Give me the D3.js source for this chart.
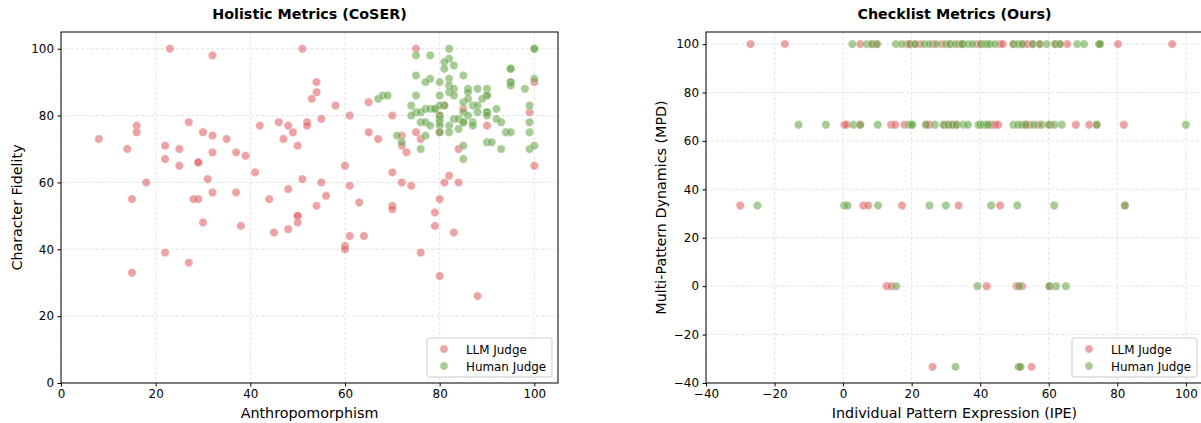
<!DOCTYPE html>
<html><head><meta charset="utf-8">
<script src="https://cdn.jsdelivr.net/npm/d3@7"></script>
<style>body{margin:0;background:#fff}svg{display:block}text{font-family:"DejaVu Sans",sans-serif}</style>
</head><body><svg id="c" width="1201" height="423"></svg>
<script>
// ---- data ----
const holisticLLM = [[23,100],[32,98],[51,100],[75,100],[54,90],[54,87],[53,85],[58,83],[65,84],[61,80],[55,79],[52,78],[52,77],[70,80],[65,75],[67,73],[75,75],[76,73],[72,74],[72,71],[73,69],[60,65],[70,63],[51,61],[55,60],[61,59],[72,60],[74,59],[56,56],[54,53],[63,54],[70,53],[70,52],[80,55],[82,62],[81,60],[84,60],[84,70],[90,77],[100,90],[99,81],[100,65],[81,83],[85,82],[80,75],[80,80],
[8,73],[16,77],[16,75],[14,70],[18,60],[15,55],[27,78],[22,71],[25,70],[22,67],[25,65],[29,66],[29,66],[30,75],[32,74],[32,69],[35,73],[37,69],[39,68],[31,61],[32,57],[28,55],[29,55],[37,57],[41,63],[42,77],[44,55],[46,78],[48,77],[47,73],[49,75],[50,71],[48,58],
[30,48],[38,47],[45,45],[48,46],[50,50],[50,50],[50,48],[22,39],[27,36],[15,33],
[79,51],[79,47],[83,45],[61,44],[64,44],[60,41],[60,40],[76,39],[80,32],[88,26]];
const holisticHuman = [[82,100],[100,100],[100,100],[75,98],[78,98],[82,97],[81,96],[83,95],[81,94],[95,94],[95,94],[75,92],[85,92],[78,91],[77,90],[80,90],[82,91],[95,90],[95,90],[95,89],[100,91],[82,89],[82,87],[83,88],[83,86],[86,88],[86,87],[88,88],[90,88],[90,86],[90,86],[98,88],[75,86],[80,86],[81,83],[85,84],[86,85],[87,83],[88,83],[89,85],[67,85],[68,86],[69,86],[74,83],[75,81],[76,81],[77,82],[78,82],[79,82],[79,82],[80,83],[74,80],[80,80],[80,79],[80,78],[76,78],[77,78],[78,77],[83,79],[84,79],[85,78],[85,78],[85,81],[86,80],[87,78],[87,77],[88,81],[90,81],[90,81],[90,80],[92,82],[92,79],[93,78],[82,77],[82,75],[84,76],[80,77],[80,75],[77,74],[71,74],[72,72],[76,70],[85,71],[85,67],[90,72],[91,72],[93,70],[94,75],[95,75],[99,83],[99,78],[99,75],[99,70],[100,71]];

const lv = [100, 200/3, 100/3, 0, -100/3];
const checkLLM100 = [-27,-17,5,8.5,10,18.6,19.5,21,22.5,26.3,28.8,31.2,33.8,35,39,40.2,45.8,46.6,49.7,52.6,53.8,55.3,57.4,61.9,63.3,65.4,74.7,80.2,96];
const checkLLM67 = [0.4,1,5,14,15.2,17.9,24.4,25.1,29.6,30.7,31.9,33.1,43.3,44.3,45.3,53.3,54.5,57,60.4,67.9,71.8,74,81.9];
const checkLLM33 = [-30,5.9,7.3,17.2,33.7,45.8,82.2];
const checkLLM0 = [12.7,14.1,41.9,50.6,52.2,60.2];
const checkLLMm33 = [26.1,55,51.5];
const checkHuman100 = [2.7,6.9,8.4,9.8,15.4,17.1,19.5,21,23.7,25.1,27.3,30,31.2,32.7,34.9,34.7,36.5,37.7,40.2,41.4,42.1,42.9,44.3,49.7,51.1,52.2,55.3,57.4,59.4,61.9,63.3,68.3,70.3,74.7,75];
const checkHuman67 = [-13,-5,3,5,10.1,19.2,19.9,20.2,24.1,26.8,29.3,30.7,31.9,33.1,35.1,36.4,39.5,40,41,41.9,42.4,49.7,51,52.1,53.3,55.7,58,60,61.7,63.8,74,100];
const checkHuman33 = [-25,0.3,1.3,10.2,25.2,30,43.2,50.8,61.6,82.2];
const checkHuman0 = [15.5,39.2,51.4,60.2,62.1,65];
const checkHumanm33 = [32.8,51.2,51.8];

const leftTicks = [0,20,40,60,80,100];
const rightXTicks = [-40,-20,0,20,40,60,80,100];
const rightYTicks = [-40,-20,0,20,40,60,80,100];
const seriesNames = ["LLM Judge","Human Judge"];
const seriesColors = ["#e06666","#6aa84f"];

const checkLLM = [checkLLM100,checkLLM67,checkLLM33,checkLLM0,checkLLMm33].flatMap((a,i)=>a.map(x=>[x,lv[i]]));
const checkHuman = [checkHuman100,checkHuman67,checkHuman33,checkHuman0,checkHumanm33].flatMap((a,i)=>a.map(x=>[x,lv[i]]));

// ---- drawing ----
const svg = d3.select("#c");
svg.append("rect").attr("width",1201).attr("height",423).attr("fill","#fff");
const fmt = d => d < 0 ? "\u2212" + Math.abs(d) : String(d);

function panel(o){
  const g = svg.append("g");
  const x = d3.scaleLinear().domain(o.xd).range([o.x0,o.x1]);
  const y = d3.scaleLinear().domain(o.yd).range([o.y1,o.y0]);
  const cid = "clip"+o.id;
  svg.append("clipPath").attr("id",cid).append("rect").attr("x",o.x0).attr("y",o.y0).attr("width",o.x1-o.x0).attr("height",o.y1-o.y0);
  const grid = g.append("g").attr("clip-path",`url(#${cid})`);
  grid.selectAll(".gx").data(o.xt).join("line").attr("x1",d=>x(d)).attr("x2",d=>x(d)).attr("y1",o.y0).attr("y2",o.y1)
    .attr("stroke","#dcdcdc").attr("stroke-width",0.8).attr("stroke-dasharray","3,2");
  grid.selectAll(".gy").data(o.yt).join("line").attr("y1",d=>y(d)).attr("y2",d=>y(d)).attr("x1",o.x0).attr("x2",o.x1)
    .attr("stroke","#dcdcdc").attr("stroke-width",0.8).attr("stroke-dasharray","3,2");
  const pts = g.append("g").attr("clip-path",`url(#${cid})`);
  [o.a,o.b].forEach((data,i)=>{
    pts.append("g").selectAll("circle").data(data).join("circle")
      .attr("cx",d=>x(d[0])).attr("cy",d=>y(d[1])).attr("r",4.2)
      .attr("fill",seriesColors[i]).attr("fill-opacity",0.6)
      .attr("stroke","#fff").attr("stroke-width",0.6).attr("stroke-opacity",0.6);
  });
  g.append("rect").attr("x",o.x0).attr("y",o.y0).attr("width",o.x1-o.x0).attr("height",o.y1-o.y0)
    .attr("fill","none").attr("stroke","#000").attr("stroke-width",1);
  const xa = g.append("g").attr("transform",`translate(0,${o.y1})`)
    .call(d3.axisBottom(x).tickValues(o.xt).tickFormat(fmt).tickSize(3.5).tickPadding(3.5));
  const ya = g.append("g").attr("transform",`translate(${o.x0},0)`)
    .call(d3.axisLeft(y).tickValues(o.yt).tickFormat(fmt).tickSize(3.5).tickPadding(3.5));
  [xa,ya].forEach(a=>{a.select(".domain").remove();a.selectAll("text").attr("font-size",11.9).attr("fill","#000").style("font-family","DejaVu Sans");a.selectAll("line").attr("stroke","#000");});
  const cx = (o.x0+o.x1)/2;
  g.append("text").attr("x",cx).attr("y",19).attr("text-anchor","middle")
    .attr("font-size",14.3).attr("font-weight","bold").text(o.title);
  g.append("text").attr("x",cx).attr("y",418).attr("text-anchor","middle")
    .attr("font-size",14.3).text(o.xl);
  g.append("text").attr("transform",`translate(${o.ylx},${(o.y0+o.y1)/2}) rotate(-90)`).attr("text-anchor","middle")
    .attr("font-size",14.3).text(o.yl);
  const L = g.append("g").attr("transform",`translate(${o.lx},338)`);
  L.append("rect").attr("width",125).attr("height",39).attr("rx",2).attr("fill","#fff").attr("fill-opacity",0.8)
    .attr("stroke","#cccccc").attr("stroke-width",1);
  seriesNames.forEach((n,i)=>{
    L.append("circle").attr("cx",17).attr("cy",11+i*17).attr("r",4.2).attr("fill",seriesColors[i]).attr("fill-opacity",0.6)
      .attr("stroke","#fff").attr("stroke-width",0.6);
    L.append("text").attr("x",39).attr("y",15.5+i*17).attr("font-size",11.9).text(n);
  });
}

panel({id:1,x0:61,x1:558,y0:32,y1:383,xd:[0,105],yd:[0,105],xt:leftTicks,yt:leftTicks,a:holisticLLM,b:holisticHuman,
  title:"Holistic Metrics (CoSER)",xl:"Anthropomorphism",yl:"Character Fidelity",ylx:22,lx:427});
panel({id:2,x0:706,x1:1203,y0:32,y1:383,xd:[-40,105],yd:[-40,105],xt:rightXTicks,yt:rightYTicks,a:checkLLM,b:checkHuman,
  title:"Checklist Metrics (Ours)",xl:"Individual Pattern Expression (IPE)",yl:"Multi-Pattern Dynamics (MPD)",ylx:666,lx:1072});
</script></body></html>
